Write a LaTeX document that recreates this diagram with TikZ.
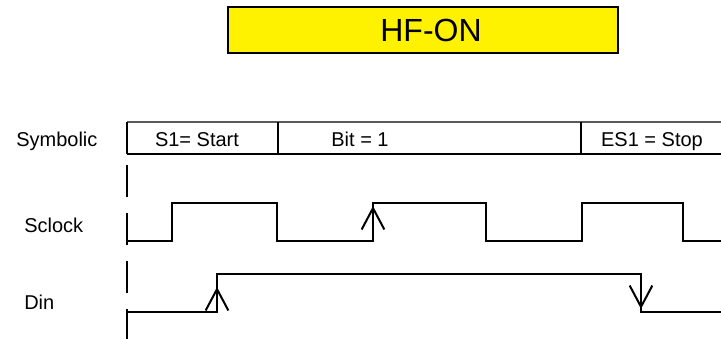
\documentclass[tikz,border=0pt]{standalone}
\usepackage{fontspec}
\setmainfont{Liberation Sans}
\usetikzlibrary{arrows.meta}
\usetikzlibrary{positioning}
\tikzset{
    banner/.style = {draw,line width=1.5pt,fill=yellow,minimum width=292pt,minimum height=34.5pt,inner sep=0,font=\fontsize{24}{24}\selectfont},
    rowname/.style = {anchor=base west,inner sep=0,font=\fontsize{15}{15}\selectfont},
    cell/.style = {anchor=base,inner sep=0,font=\fontsize{15}{15}\selectfont},
    grid/.style = {line width=0.8pt},
    wave/.style = {line width=1.5pt},
    marker/.style = {line width=1.5pt,dash pattern=on 24pt off 12pt},
    edge/.style = {line width=1.5pt,-{Straight Barb[length=16pt,width=17pt]}}
}
\begin{document}
\begin{tikzpicture}[x=0.75pt,y=-0.75pt]
        \newcommand*\xstart{127}
        \newcommand*\xend{721}
        \newcommand*\clklo{241}
        \newcommand*\clkhi{203}
        \newcommand*\dinlo{312}
        \newcommand*\dinhi{274}
        \useasboundingbox (0,0) rectangle (721,339);
        % Title
        \node[banner] (title) at (423,30) {\hspace{12pt}HF-ON};
        % Row names
        \node[rowname] (sym) at (16,146.5) {Symbolic};
        \node[rowname] (sclk) at (24,232.5) {Sclock};
        \node[rowname] (din) at (24,309) {Din};
        % Symbolic row
        \draw[grid,gray!70!black] (\xstart,122) -- (\xend,122);
        \draw[grid] (\xstart,154) -- (\xend,154);
        \foreach \x in {\xstart,278,581}
            \draw[grid] (\x,122) -- (\x,154);
        \node[cell] (s1) at (197,146.5) {S1= Start};
        \node[cell] (bit) at (360,146.5) {Bit = 1};
        \node[cell] (es1) at (652,146.5) {ES1 = Stop};
        % Frame start
        \draw[marker] (\xstart,165) -- (\xstart,339);
        % Sclock
        \draw[wave] (\xstart,\clklo) -| (172,\clkhi) -| (277,\clklo) -| (373,\clkhi)
            -| (486,\clklo) -| (582,\clkhi) -| (683,\clklo) -- (\xend,\clklo);
        \draw[edge] (373,\clklo) -- (373,206);
        % Din
        \draw[wave] (\xstart,\dinlo) -| (217,\dinhi) -| (641,\dinlo) -- (\xend,\dinlo);
        \draw[edge] (217,\dinlo) -- (217,287);
        \draw[edge] (641,\dinhi) -- (641,309);
    \end{tikzpicture}
\end{document}
